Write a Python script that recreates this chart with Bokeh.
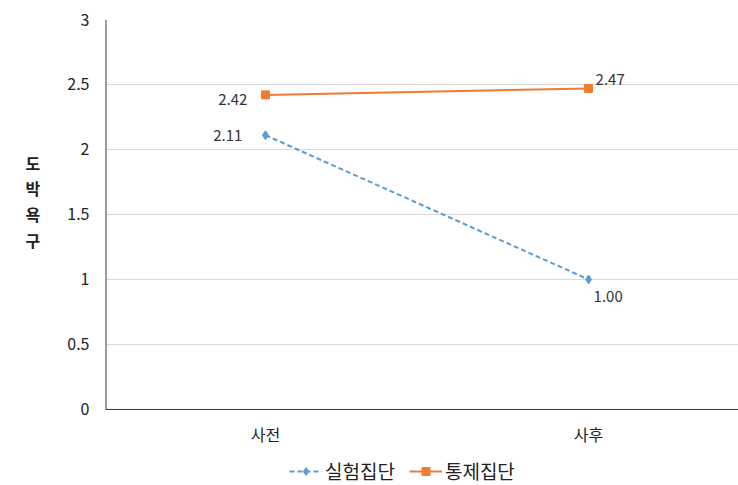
from bokeh.plotting import figure
from bokeh.models import ColumnDataSource, FixedTicker, Legend, LegendItem, Range1d, LabelSet, Span
from bokeh.core.properties import value
from bokeh.embed import file_html
from bokeh.resources import INLINE

categories = ["사전", "사후"]
series_names = ["실험집단", "통제집단"]
exp_values = [2.11, 1.00]
ctl_values = [2.42, 2.47]
exp_labels = ["2.11", "1.00"]
ctl_labels = ["2.42", "2.47"]
y_ticks = [0, 0.5, 1, 1.5, 2, 2.5, 3]
y_tick_labels = ["0", "0.5", "1", "1.5", "2", "2.5", "3"]

FONT = "Noto Sans CJK KR"
xs = list(range(len(categories)))
X_MIN, X_MAX = -0.495, 1.464
Y_MIN, Y_MAX = -0.585, 3.0

p = figure(frame_width=633, frame_height=466, output_backend="svg", toolbar_location=None,
           x_range=Range1d(X_MIN, X_MAX), y_range=Range1d(Y_MIN, Y_MAX))
p.min_border_left = 105
p.min_border_right = 0
p.min_border_top = 19
p.min_border_bottom = 0
p.outline_line_color = None
p.background_fill_color = "white"
p.border_fill_color = "white"

p.xaxis.visible = False
p.xgrid.grid_line_color = None
p.ygrid.grid_line_color = "#D9D9D9"
p.ygrid.ticker = FixedTicker(ticks=y_ticks[1:])

p.yaxis.ticker = FixedTicker(ticks=y_ticks)
p.yaxis.major_label_overrides = {t: l for t, l in zip(y_ticks, y_tick_labels)}
ax = p.yaxis[0]
ax.major_tick_line_color = None
ax.minor_tick_line_color = None
ax.major_tick_in = 0
ax.major_tick_out = 0
ax.minor_tick_in = 0
ax.minor_tick_out = 0
ax.axis_line_color = None
ax.major_label_text_font = FONT
ax.major_label_text_font_size = "16px"
ax.major_label_text_color = "#222222"
ax.major_label_standoff = 16
ax.axis_label = "도\n박\n욕\n구\n \n \n \n "
ax.axis_label_orientation = "horizontal"
ax.axis_label_text_font = FONT
ax.axis_label_text_font_size = "16px"
ax.axis_label_text_font_style = "bold"
ax.axis_label_text_color = "#222222"
ax.axis_label_text_line_height = 1.07
ax.axis_label_standoff = 24

# axis lines
p.add_layout(Span(location=0, dimension="width", line_color="#3a3a3a", line_width=1))
p.segment(x0=[X_MIN], y0=[0], x1=[X_MIN], y1=[Y_MAX], line_color="#3a3a3a", line_width=2)

# category labels
cat_src = ColumnDataSource(dict(x=xs, y=[0] * len(xs), lab=categories))
p.add_layout(LabelSet(x="x", y="y", text="lab", source=cat_src, y_offset=-25,
                      text_align="center", text_baseline="middle", text_font=value(FONT),
                      text_font_size=value("16px"), text_color=value("#222222")))

src_e = ColumnDataSource(dict(x=xs, y=exp_values, lab=exp_labels))
src_c = ColumnDataSource(dict(x=xs, y=ctl_values, lab=ctl_labels))

le = p.line("x", "y", source=src_e, line_color="#5B9BD5", line_width=2, line_dash="5 3")
me = p.scatter("x", "y", source=src_e, marker="diamond", size=9, fill_color="#5B9BD5", line_color="#5B9BD5")
lc = p.line("x", "y", source=src_c, line_color="#ED7D31", line_width=2)
mc = p.scatter("x", "y", source=src_c, marker="square", size=8, fill_color="#ED7D31", line_color="#ED7D31")

# data labels
src_e0 = ColumnDataSource(dict(x=xs[:1], y=exp_values[:1], lab=exp_labels[:1]))
src_e1 = ColumnDataSource(dict(x=xs[1:], y=exp_values[1:], lab=exp_labels[1:]))
src_c0 = ColumnDataSource(dict(x=xs[:1], y=ctl_values[:1], lab=ctl_labels[:1]))
src_c1 = ColumnDataSource(dict(x=xs[1:], y=ctl_values[1:], lab=ctl_labels[1:]))
for s, xo, yo, al in [(src_e0, -23, 0, "right"),
                      (src_c0, -18, -5, "right"),
                      (src_c1, 7, 9, "left"),
                      (src_e1, 5, -17, "left")]:
    p.add_layout(LabelSet(x="x", y="y", text="lab", source=s, x_offset=xo, y_offset=yo,
                          text_align=al, text_baseline="middle", text_font=value(FONT),
                          text_font_size=value("15px"), text_color=value("#333333")))

legend = Legend(items=[LegendItem(label=series_names[0], renderers=[le, me]),
                       LegendItem(label=series_names[1], renderers=[lc, mc])],
                orientation="horizontal", location=(184, 1),
                label_text_font=FONT, label_text_font_size="19px", label_text_color="#222222",
                glyph_width=33, label_standoff=3, spacing=14, border_line_color=None,
                padding=0, margin=0, background_fill_alpha=0)
p.add_layout(legend)

open("out.html", "w").write(file_html(p, INLINE))
